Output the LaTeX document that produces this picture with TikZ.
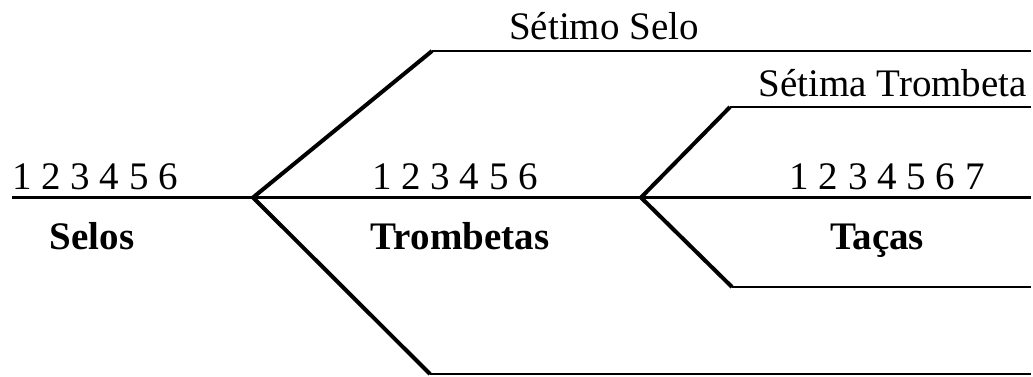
\documentclass[tikz,border=0pt]{standalone}
\usepackage{fontspec}
\setmainfont{Liberation Serif}
\begin{document}
\begin{tikzpicture}[x=1pt,y=-1pt,
  hline/.style={line width=2.6pt},
  dline/.style={line width=4pt,line join=miter},
  lbl/.style={font=\fontsize{39}{39}\selectfont,inner sep=0pt,anchor=base},
  blbl/.style={font=\fontsize{39}{39}\selectfont\bfseries,inner sep=0pt,anchor=base}]
\useasboundingbox (0,0) rectangle (1033,376);
% coordinates
\coordinate (L) at (12,197.5);
\coordinate (B1) at (253,197.5);
\coordinate (B2) at (641,197.5);
\coordinate (R) at (1031,197.5);
\coordinate (U1) at (432,51);
\coordinate (U1e) at (1031,51);
\coordinate (D1) at (430,374);
\coordinate (D1e) at (1031,374);
\coordinate (U2) at (730,107);
\coordinate (U2e) at (1031,107);
\coordinate (D2) at (732,287);
\coordinate (D2e) at (1031,287);
% lines
\draw[hline] (L) -- (R);
\draw[dline] (U1) -- (B1) -- (D1);
\draw[hline] (U1) -- (U1e);
\draw[hline] (D1) -- (D1e);
\draw[dline] (U2) -- (B2) -- (D2);
\draw[hline] (U2) -- (U2e);
\draw[hline] (D2) -- (D2e);
% labels
\node[lbl] (n1) at (95,189) {1 2 3 4 5 6};
\node[lbl] (n2) at (455,189) {1 2 3 4 5 6};
\node[lbl] (n3) at (887,189) {1 2 3 4 5 6 7};
\node[blbl] (s1) at (92,249) {Selos};
\node[blbl] (s2) at (460,249) {Trombetas};
\node[blbl] (s3) at (877,249) {Taças};
\node[lbl] (t1) at (604,39) {Sétimo Selo};
\node[lbl,anchor=base east] (t2) at (1027,96) {Sétima Trombeta};
\end{tikzpicture}
\end{document}
